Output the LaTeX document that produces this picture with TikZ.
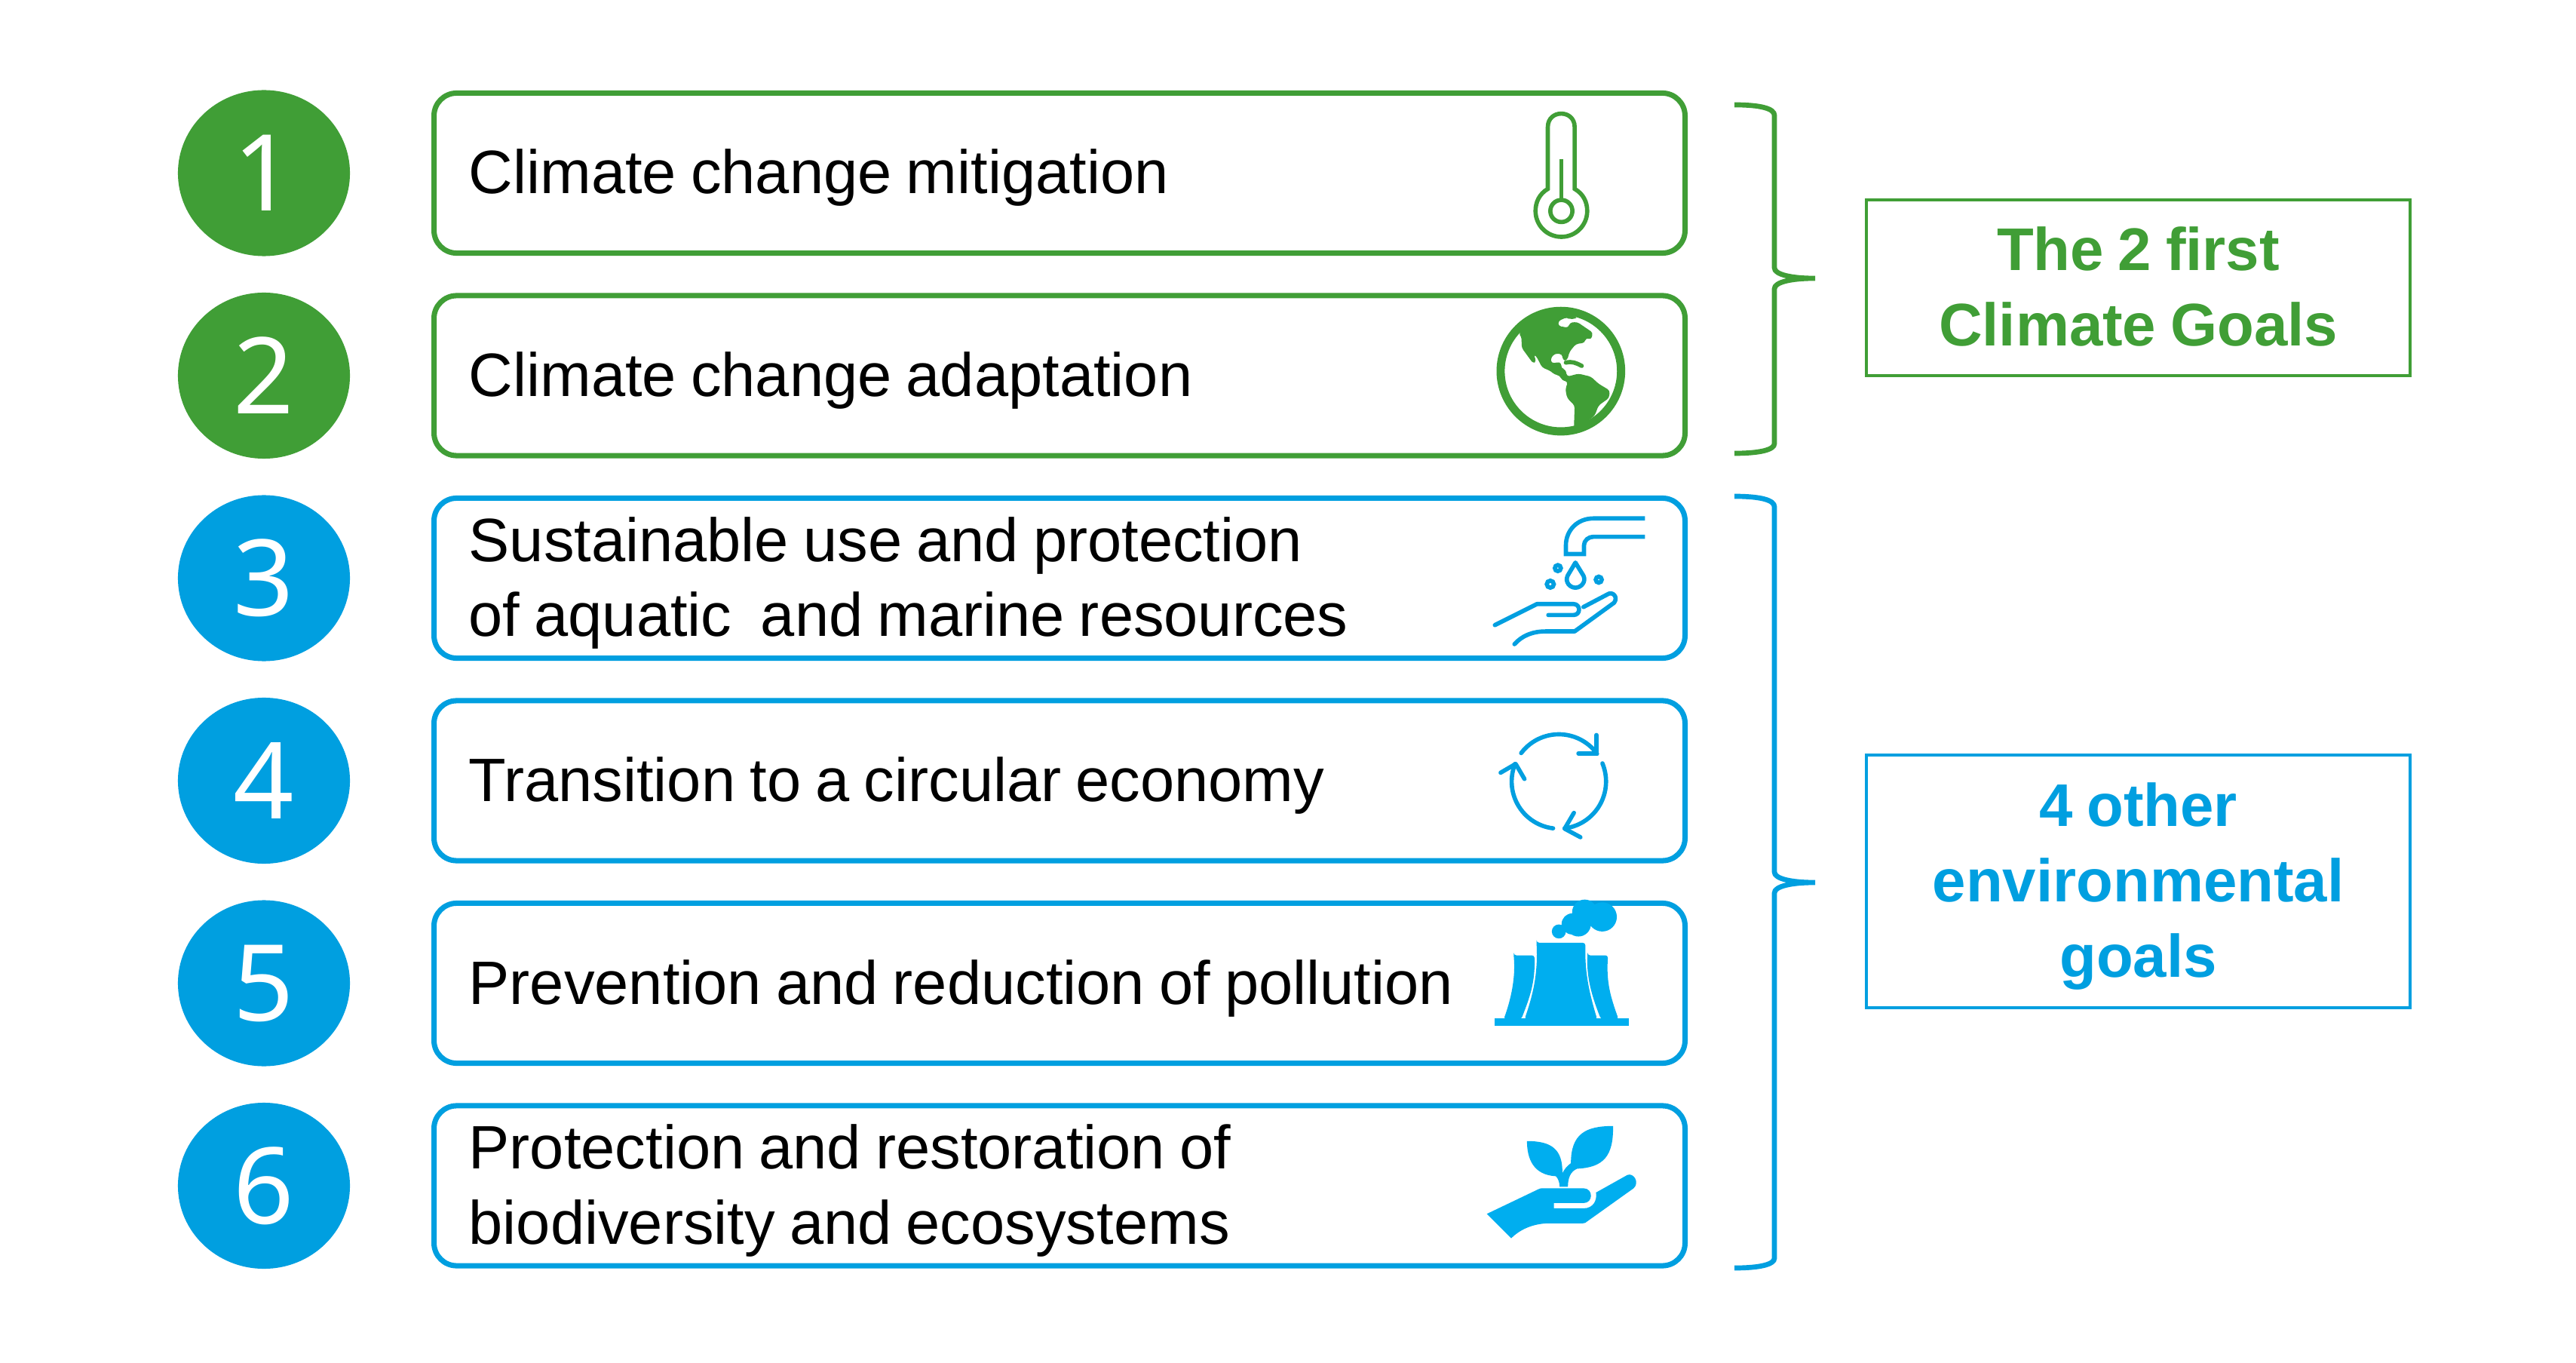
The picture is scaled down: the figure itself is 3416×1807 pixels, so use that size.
\documentclass[tikz,border=0pt]{standalone}
\usepackage{fontspec}
\usetikzlibrary{shapes.geometric}
\setmainfont[WordSpace=0.85]{Liberation Sans}
\newfontfamily\numfont{Noto Sans}
\definecolor{gr}{HTML}{409E36}
\definecolor{bl}{HTML}{009FE0}
\definecolor{blf}{HTML}{00AEEF}
\tikzset{
  goalbox/.style={draw=#1,line width=2pt,rounded corners=0.3cm,minimum width=16.58cm,minimum height=2.12cm,inner sep=0pt,anchor=center},
  goaltext/.style={anchor=west,align=left,inner sep=0pt,text=black,font=\fontsize{23.1}{28.4}\selectfont},
  numdisc/.style={ellipse,fill=#1,minimum width=2.28cm,minimum height=2.2cm,inner sep=0pt,text=white,font=\numfont\fontsize{40}{40}\selectfont},
  sumbox/.style={draw=#1,line width=1.2pt,minimum width=7.21cm,inner sep=0pt},
  sumtext/.style={text=#1,align=center,inner sep=0pt,font=\fontsize{22.7}{28.4}\selectfont\bfseries},
  bracepath/.style={draw=#1,line width=1.9pt},
  iconline/.style={draw=#1,line width=1.6pt},
  roundline/.style={draw=#1,line width=1.6pt,line cap=round,line join=round},
  zoomframe/.style={x=0.003333cm,y=-0.003333cm}
}
\begin{document}
\begin{tikzpicture}[x=0.01cm,y=-0.01cm]
\useasboundingbox[fill=white] (0,0) rectangle (3416,1807);
% discs
\node[numdisc=gr] (n1) at (350,229.5) {1};
\node[numdisc=gr] (n2) at (350,498) {2};
\node[numdisc=bl] (n3) at (350,766.5) {3};
\node[numdisc=bl] (n4) at (350,1035) {4};
\node[numdisc=bl] (n5) at (350,1303.5) {5};
\node[numdisc=bl] (n6) at (350,1572) {6};
% boxes
\node[goalbox=gr] (b1) at (1405,229.5) {};
\node[goalbox=gr] (b2) at (1405,498) {};
\node[goalbox=bl] (b3) at (1405,766.5) {};
\node[goalbox=bl] (b4) at (1405,1035) {};
\node[goalbox=bl] (b5) at (1405,1303.5) {};
\node[goalbox=bl] (b6) at (1405,1572) {};
\node[goaltext] (t1) at (621,236) {Climate change mitigation};
\node[goaltext] (t2) at (621,504.5) {Climate change adaptation};
\node[goaltext] (t3) at (621,773) {Sustainable use and protection\\of aquatic\ \ and marine resources};
\node[goaltext] (t4) at (621,1041.5) {Transition to a circular economy};
\node[goaltext] (t5) at (621,1310) {Prevention and reduction of pollution};
\node[goaltext] (t6) at (621,1578.5) {Protection and restoration of\\biodiversity and ecosystems};
% summary boxes
\node[sumbox=gr,minimum height=2.33cm] (s1) at (2835.5,381.5) {};
\node[sumbox=bl,minimum height=3.35cm] (s2) at (2835.5,1168.5) {};
\node[sumtext=gr] (st1) at (s1) [yshift=0.015cm] {The 2 first\\Climate Goals};
\node[sumtext=bl] (st2) at (s2) [yshift=-0.065cm] {4 other\\environmental\\goals};
% braces
\coordinate (bt1) at (2300,139); \coordinate (bm1) at (2407,369); \coordinate (bb1) at (2300,601);
\coordinate (bt2) at (2300,658); \coordinate (bm2) at (2407,1170); \coordinate (bb2) at (2300,1681);
\draw[bracepath=gr] (bt1) .. controls (2335,139) and (2353,144) .. (2353,153) -- (2353,355) .. controls (2353,364) and (2375,369) .. (bm1) .. controls (2375,369) and (2353,374) .. (2353,383) -- (2353,588) .. controls (2353,596) and (2335,601) .. (bb1);
\draw[bracepath=bl] (bt2) .. controls (2335,658) and (2353,663) .. (2353,672) -- (2353,1156) .. controls (2353,1165) and (2375,1170) .. (bm2) .. controls (2375,1170) and (2353,1175) .. (2353,1184) -- (2353,1668) .. controls (2353,1676) and (2335,1681) .. (bb2);
% thermometer and globe
\begin{scope}[shift={(1950,120)},zoomframe]
\draw[iconline=gr] (308,392) -- (308,146) .. controls (308,74) and (415,74) .. (415,146) -- (415,392) .. controls (450,412) and (465,445) .. (465,480) .. controls (465,537) and (419,583) .. (362,583) .. controls (305,583) and (259,537) .. (259,480) .. controls (259,445) and (274,412) .. (308,392) -- cycle;
\draw[iconline=gr] (362,480) circle (44);
\draw[iconline=gr] (362,272) -- (362,436);
\draw[draw=gr,line width=3.1pt] (360,1118) circle (240);
\fill[gr,rounded corners=1pt] (192,968) -- (230,920) -- (300,885) -- (360,878) -- (428,906) -- (395,912) -- (385,903) -- (350,918) -- (350,938) -- (390,945) -- (395,925) -- (425,922) -- (488,965) -- (480,993) -- (460,985) -- (455,1005) -- (420,1010) -- (395,1040) -- (385,1075) -- (368,1075) -- (365,1050) -- (335,1048) -- (318,1070) -- (325,1088) -- (345,1082) -- (362,1085) -- (362,1108) -- (378,1110) -- (385,1140) -- (430,1128) -- (480,1140) -- (510,1168) -- (555,1195) -- (552,1225) -- (510,1255) -- (495,1295) -- (465,1318) -- (450,1345) -- (412,1345) -- (415,1255) -- (385,1225) -- (378,1190) -- (388,1160) -- (365,1155) -- (355,1135) -- (335,1132) -- (320,1118) -- (285,1103) -- (262,1058) -- (252,1052) -- (262,1078) -- (250,1088) -- (204,1025) -- (203,980) -- cycle;
\draw[roundline=gr] (380,1084) .. controls (405,1078) and (420,1085) .. (443,1097);
\end{scope}
% faucet and recycle
\begin{scope}[shift={(1950,660)},zoomframe]
\draw[iconline=bl] (695,82) -- (490,82) .. controls (425,82) and (380,130) .. (380,190) -- (380,224) -- (452,224) -- (452,190) .. controls (452,170) and (470,155) .. (490,155) -- (695,155);
\draw[iconline=bl,line join=round] (418,258) -- (450,310) .. controls (462,335) and (440,358) .. (418,358) .. controls (396,358) and (375,335) .. (387,310) -- cycle;
\draw[iconline=bl] (348,280) circle (12);
\draw[iconline=bl] (318,344) circle (14);
\draw[iconline=bl] (511,326) circle (12);
\draw[roundline=bl] (97,507) -- (265,423) -- (410,423) .. controls (440,423) and (440,467) .. (410,467) -- (310,467);
\draw[roundline=bl] (175,583) .. controls (205,550) and (245,532) .. (300,532) -- (415,532) -- (572,418) .. controls (590,395) and (565,370) .. (545,385) -- (450,435);
\draw[roundline=bl,domain=143:36,samples=30] plot ({352+188*cos(\x)},{1130-188*sin(\x)});
\draw[roundline=bl] (502,945) -- (502,1018) -- (430,1018);
\draw[roundline=bl,domain=22.6:-83,samples=30] plot ({352+188*cos(\x)},{1130-188*sin(\x)});
\draw[roundline=bl] (412,1255) -- (375,1318) -- (438,1352);
\draw[roundline=bl,domain=-97:-202,samples=30] plot ({352+188*cos(\x)},{1130-188*sin(\x)});
\draw[roundline=bl] (120,1095) -- (180,1060) -- (215,1120);
\end{scope}
% power plant and plant in hand
\begin{scope}[shift={(1950,1170)},zoomframe]
\fill[blf] (95,542) rectangle (630,570);
\fill[blf,rounded corners=1pt] (263,240) -- (458,240) .. controls (455,350) and (470,430) .. (505,545) -- (215,545) .. controls (255,430) and (268,350) .. cycle;
\fill[blf,rounded corners=1pt] (172,290) -- (255,290) .. controls (258,400) and (235,460) .. (202,545) -- (132,545) .. controls (170,440) and (178,360) .. cycle;
\fill[blf,rounded corners=1pt] (466,290) -- (548,290) .. controls (540,400) and (560,460) .. (590,545) -- (520,545) .. controls (478,440) and (463,370) .. cycle;
\fill[blf] (352,195) circle (28) (405,165) circle (42) (430,165) circle (50) (455,118) circle (50) (525,137) circle (58);
\fill[blf] (65,1320) -- (270,1222) .. controls (275,1219) and (280,1218) .. (285,1218) -- (450,1218) .. controls (490,1218) and (490,1277) .. (450,1277) -- (332,1277) -- (332,1298) -- (450,1298) .. controls (490,1298) and (505,1265) .. (500,1235) -- (625,1165) .. controls (650,1155) and (675,1195) .. (650,1218) -- (465,1350) .. controls (460,1355) and (455,1358) .. (445,1358) -- (300,1358) .. controls (240,1362) and (195,1385) .. (162,1417) -- cycle;
\fill[blf] (225,1030) .. controls (225,1100) and (250,1165) .. (340,1170) .. controls (350,1180) and (355,1195) .. (355,1212) -- (388,1212) .. controls (388,1175) and (400,1150) .. (425,1140) .. controls (530,1135) and (570,1090) .. (568,970) .. controls (460,970) and (400,1000) .. (400,1118) .. controls (385,1128) and (372,1145) .. (366,1158) .. controls (368,1060) and (320,1030) .. cycle;
\end{scope}
\end{tikzpicture}
\end{document}
